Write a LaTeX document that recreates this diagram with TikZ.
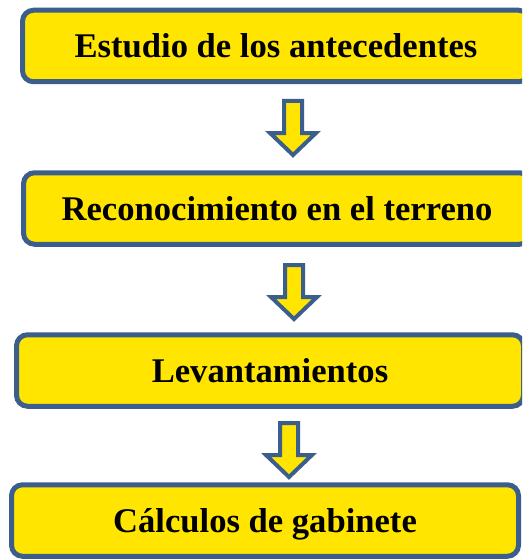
\documentclass[tikz,border=0pt]{standalone}
\usepackage{fontspec}
\setmainfont{Liberation Serif}
\definecolor{boxyellow}{RGB}{255,229,0}
\definecolor{boxblue}{RGB}{59,94,140}
\begin{document}
\begin{tikzpicture}[x=1pt,y=-1pt,
  stepbox/.style={draw=boxblue,line width=5pt,fill=boxyellow,rounded corners=11pt,
    minimum width=507pt,minimum height=71.5pt,inner sep=0pt,
    text height=24pt,text depth=0pt,
    font=\fontsize{34.6}{40}\selectfont\bfseries},
  blockarrow/.style={draw=boxblue,line width=4pt,fill=boxyellow,line join=miter},
  downarrow/.pic={\draw[blockarrow] (-9,0) -- (9,0) -- (9,32) -- (23,32) -- (0,54)
     -- (-23,32) -- (-9,32) -- cycle;}]
\useasboundingbox (0,0) rectangle (522,559);
\clip (0,0) rectangle (522,559);
\node[stepbox] (b1) at (276,46) {Estudio de los antecedentes};
\node[stepbox] (b2) at (277,208.5) {Reconocimiento en el terreno};
\node[stepbox] (b3) at (270,370.5) {Levantamientos};
\node[stepbox] (b4) at (265,520.5) {Cálculos de gabinete};
\coordinate (a1) at (293,101);
\coordinate (a2) at (294,265);
\coordinate (a3) at (289,423);
\pic at (a1) {downarrow};
\pic at (a2) {downarrow};
\pic at (a3) {downarrow};
\end{tikzpicture}
\end{document}
